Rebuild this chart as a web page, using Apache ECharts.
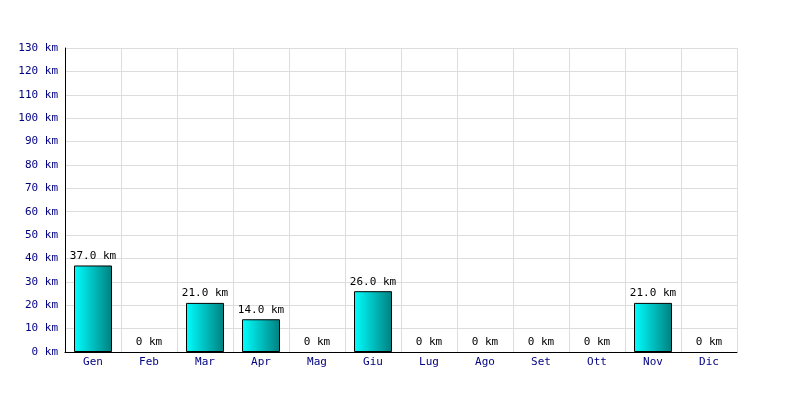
<!DOCTYPE html>
<html><head><meta charset="utf-8">
<script src="https://cdn.jsdelivr.net/npm/echarts@6/dist/echarts.min.js"></script>
<style>html,body{margin:0;padding:0;background:#fff}#c{width:800px;height:400px}</style>
</head><body><div id="c"></div>
<script>
const categories = ['Gen','Feb','Mar','Apr','Mag','Giu','Lug','Ago','Set','Ott','Nov','Dic'];
const distances = [37, 0, 21, 14, 0, 26, 0, 0, 0, 0, 21, 0];
const yMin = 0, yMax = 130, yStep = 10;
const font = 'DejaVu Sans Mono';
const chart = echarts.init(document.getElementById('c'));
chart.setOption({
  animation: false,
  backgroundColor: '#fff',
  grid: {left: 65, right: 63, top: 48, bottom: 48, containLabel: false},
  xAxis: {
    type: 'category', data: categories,
    axisLine: {show: true, lineStyle: {color: '#000', width: 1}},
    axisTick: {show: false},
    splitLine: {show: true, lineStyle: {color: '#dddddd', width: 1}},
    axisLabel: {color: '#000080', fontFamily: font, fontSize: 11, margin: 5, interval: 0}
  },
  yAxis: {
    type: 'value', min: yMin, max: yMax, interval: yStep,
    axisLine: {show: true, lineStyle: {color: '#000', width: 1}},
    axisTick: {show: false},
    splitLine: {show: true, lineStyle: {color: '#dddddd', width: 1}},
    axisLabel: {color: '#000080', fontFamily: font, fontSize: 11, margin: 7, formatter: '{value} km'}
  },
  series: [{
    type: 'bar',
    data: distances.map(v => v === 0 ? {value: v, itemStyle: {borderWidth: 0}} : v),
    barWidth: 38,
    itemStyle: {
      borderColor: '#000', borderWidth: 1,
      color: new echarts.graphic.LinearGradient(0, 0, 1, 0, [
        {offset: 0, color: '#00ffff'}, {offset: 1, color: '#008080'}
      ])
    },
    label: {
      show: true, position: 'top', distance: 4, color: '#000', fontFamily: font, fontSize: 11,
      formatter: p => p.value === 0 ? '0 km' : p.value.toFixed(1) + ' km'
    }
  }]
});
</script></body></html>
